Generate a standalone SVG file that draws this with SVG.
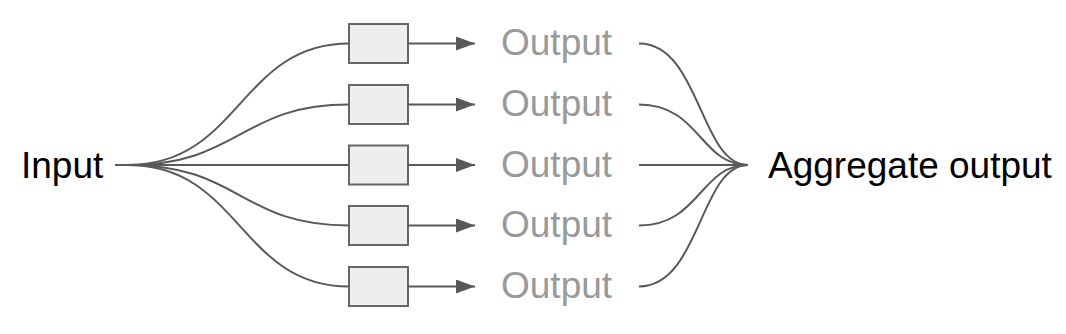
<svg xmlns="http://www.w3.org/2000/svg" width="1066" height="334" viewBox="0 0 1066 334">
<style>
.lbl{font-family:"Liberation Sans",Arial,sans-serif;font-size:37px;fill:#000}
.out{font-family:"Liberation Sans",Arial,sans-serif;font-size:37px;fill:#999999}
.box{fill:#eeeeee;stroke:#666666;stroke-width:2}
.conn{fill:none;stroke:#595959;stroke-width:2}
</style>
<defs>
<marker id="arr" markerWidth="19" markerHeight="14" refX="19" refY="7" orient="auto" markerUnits="userSpaceOnUse">
<path d="M0,0 L19,7 L0,14 z" fill="#595959"/>
</marker>
</defs>
<g id="input"><text class="lbl" x="21" y="177.5">Input</text></g>
<g id="aggregate"><text class="lbl" x="768" y="177.5">Aggregate output</text></g>
<g id="box1"><rect class="box" x="349" y="24" width="59" height="39"/></g>
<g id="box2"><rect class="box" x="349" y="85" width="59" height="39"/></g>
<g id="box3"><rect class="box" x="349" y="145.5" width="59" height="39"/></g>
<g id="box4"><rect class="box" x="349" y="206" width="59" height="39"/></g>
<g id="box5"><rect class="box" x="349" y="267" width="59" height="39"/></g>
<g id="output1"><text class="out" x="501" y="55">Output</text></g>
<g id="output2"><text class="out" x="501" y="116">Output</text></g>
<g id="output3"><text class="out" x="501" y="176.5">Output</text></g>
<g id="output4"><text class="out" x="501" y="237">Output</text></g>
<g id="output5"><text class="out" x="501" y="298">Output</text></g>
<g id="connectors">
<path class="conn" d="M115,165 L349,165"/>
<path class="conn" d="M128,165 C240,165 240,43.5 349,43.5"/>
<path class="conn" d="M128,165 C240,165 240,104.5 349,104.5"/>
<path class="conn" d="M128,165 C240,165 240,225.5 349,225.5"/>
<path class="conn" d="M128,165 C240,165 240,286.5 349,286.5"/>
<path class="conn" marker-end="url(#arr)" d="M408,43.5 L475,43.5"/>
<path class="conn" marker-end="url(#arr)" d="M408,104.5 L475,104.5"/>
<path class="conn" marker-end="url(#arr)" d="M408,165 L475,165"/>
<path class="conn" marker-end="url(#arr)" d="M408,225.5 L475,225.5"/>
<path class="conn" marker-end="url(#arr)" d="M408,286.5 L475,286.5"/>
<path class="conn" d="M639,43.5 C700,43.5 700,165 748,165"/>
<path class="conn" d="M639,104.5 C700,104.5 700,165 748,165"/>
<path class="conn" d="M639,165 L748,165"/>
<path class="conn" d="M639,225.5 C700,225.5 700,165 748,165"/>
<path class="conn" d="M639,286.5 C700,286.5 700,165 748,165"/>
</g>
</svg>
